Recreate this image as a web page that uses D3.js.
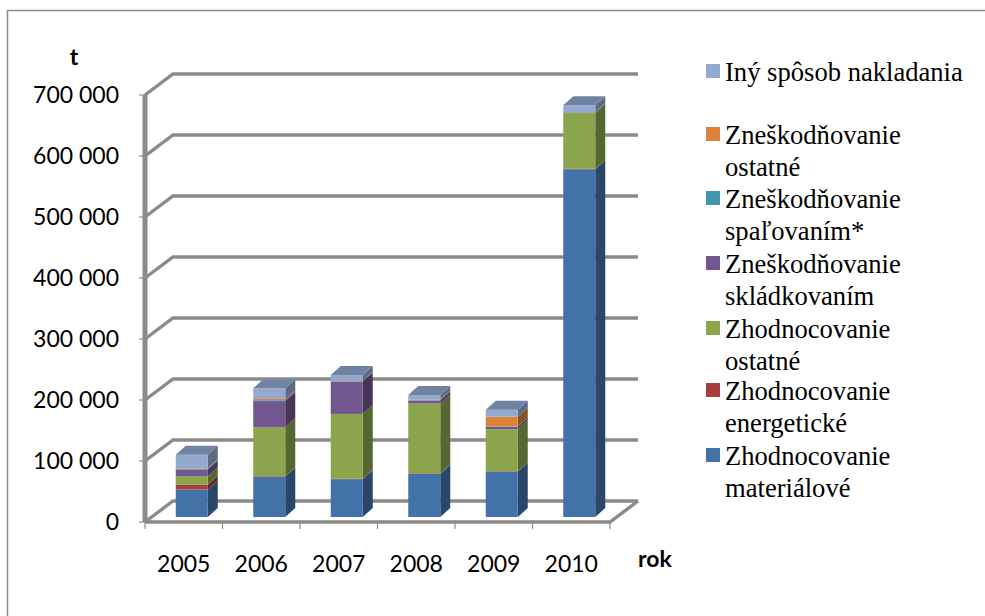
<!DOCTYPE html>
<html>
<head>
<meta charset="utf-8">
<script src="https://cdn.jsdelivr.net/npm/d3@7"></script>
<style>
  html, body { margin: 0; padding: 0; background: #fff; }
  svg { display: block; }
</style>
</head>
<body>
<div id="chart"></div>
<script>
const years = [`2005`, `2006`, `2007`, `2008`, `2009`, `2010`];
const yTicks = [0, 100000, 200000, 300000, 400000, 500000, 600000, 700000];

const material = [45000, 66000, 62000, 70500, 74000, 570000];
const energy = [8000, 1000, 1000, 1000, 1000, 1000];
const otherRecovery = [14000, 80000, 106000, 114500, 69000, 91000];
const landfill = [11000, 43000, 53000, 5000, 4000, 1000];
const incineration = [1000, 1500, 500, 500, 500, 500];
const otherDisposal = [1000, 2000, 1000, 1000, 16000, 500];
const otherWay = [22000, 17500, 9300, 7500, 11500, 11000];

const seriesNames = [`material`, `energy`, `otherRecovery`, `landfill`, `incineration`, `otherDisposal`, `otherWay`];
const seriesValues = [material, energy, otherRecovery, landfill, incineration, otherDisposal, otherWay];
const colors = [`#4372a8`, `#a83e3b`, `#8aa54b`, `#71568f`, `#3f97ad`, `#dd8339`, `#94a9d0`];
const sideColors = [`#2a4669`, `#692725`, `#566730`, `#463659`, `#275e6c`, `#8a5224`, `#5c6a82`];
const topColor = `#6f83a3`;

const legendItems = [
  { key: `otherWay`, lines: [`Iný spôsob nakladania`], y: 81 },
  { key: `otherDisposal`, lines: [`Zneškodňovanie`, `ostatné`], y: 144 },
  { key: `incineration`, lines: [`Zneškodňovanie`, `spaľovaním*`], y: 208 },
  { key: `landfill`, lines: [`Zneškodňovanie`, `skládkovaním`], y: 273 },
  { key: `otherRecovery`, lines: [`Zhodnocovanie`, `ostatné`], y: 338 },
  { key: `energy`, lines: [`Zhodnocovanie`, `energetické`], y: 400 },
  { key: `material`, lines: [`Zhodnocovanie`, `materiálové`], y: 465 }
];

const width = 985;
const height = 616;
const margin = { top: 95, left: 145, bottom: 94, right: 375 };

// front plane of the 3d box, the back wall is shifted by wall
const wall = { dx: 28, dy: -21 };
const floorShift = { dx: 8, dy: -5 };
const barDepth = { dx: 10, dy: -9 };

const x = d3.scaleBand()
  .domain(years)
  .range([margin.left, width - margin.right]);
const y = d3.scaleLinear()
  .domain([0, 700000])
  .range([height - margin.bottom, margin.top]);

const svg = d3.select(`#chart`).append(`svg`)
  .attr(`width`, width)
  .attr(`height`, height);

const defs = svg.append(`defs`);
defs.append(`filter`).attr(`id`, `soft`)
  .append(`feGaussianBlur`).attr(`stdDeviation`, 0.7);

svg.append(`rect`)
  .attr(`x`, 7.5).attr(`y`, 10.5)
  .attr(`width`, 1000).attr(`height`, 700)
  .attr(`fill`, `#fff`)
  .attr(`stroke`, `#8c8c8c`)
  .attr(`stroke-width`, 1.5);

const plot = svg.append(`g`).attr(`filter`, `url(#soft)`);
const gridColor = `#8a8a8a`;
const [xLeft, xRight] = x.range();

// gridlines, side wall part and back wall part
const grid = plot.append(`g`);
grid.selectAll(`path`)
  .data(yTicks)
  .enter().append(`path`)
    .attr(`d`, d => `M${xLeft},${y(d)}L${xLeft + wall.dx},${y(d) + wall.dy}L${xRight + wall.dx},${y(d) + wall.dy}`)
    .attr(`fill`, `none`)
    .attr(`stroke`, gridColor)
    .attr(`stroke-width`, 3.4);

// floor front edge + side edge
plot.append(`path`)
  .attr(`d`, `M${xLeft},${y(0)}L${xRight},${y(0)}L${xRight + wall.dx},${y(0) + wall.dy}`)
  .attr(`fill`, `none`)
  .attr(`stroke`, gridColor)
  .attr(`stroke-width`, 3.4);

// left wall front edge
plot.append(`line`)
  .attr(`x1`, xLeft).attr(`x2`, xLeft)
  .attr(`y1`, y(700000)).attr(`y2`, y(0))
  .attr(`stroke`, gridColor)
  .attr(`stroke-width`, 5);

// tick marks
plot.append(`g`).selectAll(`line`)
  .data(yTicks)
  .enter().append(`line`)
    .attr(`x1`, xLeft - 6).attr(`x2`, xLeft)
    .attr(`y1`, d => y(d)).attr(`y2`, d => y(d))
    .attr(`stroke`, `#8c8c8c`)
    .attr(`stroke-width`, 1.2);
plot.append(`g`).selectAll(`line`)
  .data(d3.range(years.length + 1))
  .enter().append(`line`)
    .attr(`x1`, i => xLeft + i * x.step()).attr(`x2`, i => xLeft + i * x.step())
    .attr(`y1`, y(0)).attr(`y2`, y(0) + 7)
    .attr(`stroke`, `#8c8c8c`)
    .attr(`stroke-width`, 1.2);

// bars
const barWidth = 32;
const stacked = d3.stack()
  .keys(d3.range(seriesNames.length))
  .value((row, k) => row[k])(years.map((_, i) => seriesValues.map(s => s[i])));

const barGroups = plot.selectAll(`.year`)
  .data(years)
  .enter().append(`g`)
    .attr(`class`, `year`);

barGroups.each(function (year, i) {
  const g = d3.select(this);
  const x0 = x(year) + (x.bandwidth() - barWidth) / 2 + floorShift.dx;
  const x1 = x0 + barWidth;
  const py = v => y(v) + floorShift.dy;

  stacked.forEach((layer, k) => {
    const [v0, v1] = layer[i];
    g.append(`path`)
      .attr(`d`, `M${x1},${py(v0)}L${x1 + barDepth.dx},${py(v0) + barDepth.dy}L${x1 + barDepth.dx},${py(v1) + barDepth.dy}L${x1},${py(v1)}Z`)
      .attr(`fill`, sideColors[k]);
    g.append(`rect`)
      .attr(`x`, x0).attr(`y`, py(v1))
      .attr(`width`, barWidth)
      .attr(`height`, py(v0) - py(v1))
      .attr(`fill`, colors[k]);
  });

  const top = py(stacked[stacked.length - 1][i][1]);
  g.append(`path`)
    .attr(`d`, `M${x0},${top}L${x0 + barDepth.dx},${top + barDepth.dy}L${x1 + barDepth.dx},${top + barDepth.dy}L${x1},${top}Z`)
    .attr(`fill`, topColor);
});

// axis labels
const axisFont = `Lato, Carlito, sans-serif`;
svg.append(`g`).selectAll(`text`)
  .data(yTicks)
  .enter().append(`text`)
    .attr(`x`, 119)
    .attr(`y`, d => y(d) + 8)
    .attr(`text-anchor`, `end`)
    .attr(`font-family`, axisFont)
    .attr(`font-size`, 23)
    .attr(`fill`, `#000`)
    .text(d => d3.format(`,`)(d).replace(/,/g, ` `));

svg.append(`g`).selectAll(`text`)
  .data(years)
  .enter().append(`text`)
    .attr(`x`, d => x(d) + x.bandwidth() / 2)
    .attr(`y`, 572)
    .attr(`text-anchor`, `middle`)
    .attr(`font-family`, axisFont)
    .attr(`font-size`, 23)
    .attr(`fill`, `#000`)
    .text(d => d);

svg.append(`text`)
  .attr(`x`, 74).attr(`y`, 65)
  .attr(`text-anchor`, `middle`)
  .attr(`font-family`, axisFont)
  .attr(`font-size`, 23)
  .attr(`font-weight`, 700)
  .attr(`fill`, `#000`)
  .text(`t`);

svg.append(`text`)
  .attr(`x`, 655).attr(`y`, 567)
  .attr(`text-anchor`, `middle`)
  .attr(`font-family`, axisFont)
  .attr(`font-size`, 23)
  .attr(`font-weight`, 700)
  .attr(`fill`, `#000`)
  .text(`rok`);

// legend
const legend = svg.selectAll(`.legend-item`)
  .data(legendItems)
  .enter().append(`g`)
    .attr(`class`, `legend-item`);

legend.append(`rect`)
  .attr(`x`, 706)
  .attr(`y`, d => d.y - 17)
  .attr(`width`, 14)
  .attr(`height`, 14)
  .attr(`fill`, d => colors[seriesNames.indexOf(d.key)]);

legend.each(function (d) {
  d3.select(this).selectAll(`text`)
    .data(d.lines)
    .enter().append(`text`)
      .attr(`x`, 725)
      .attr(`y`, (_, i) => d.y + i * 31.5)
      .attr(`font-family`, `"Liberation Serif", serif`)
      .attr(`font-size`, 26.6)
      .attr(`fill`, `#000`)
      .text(t => t);
});
</script>
</body>
</html>
